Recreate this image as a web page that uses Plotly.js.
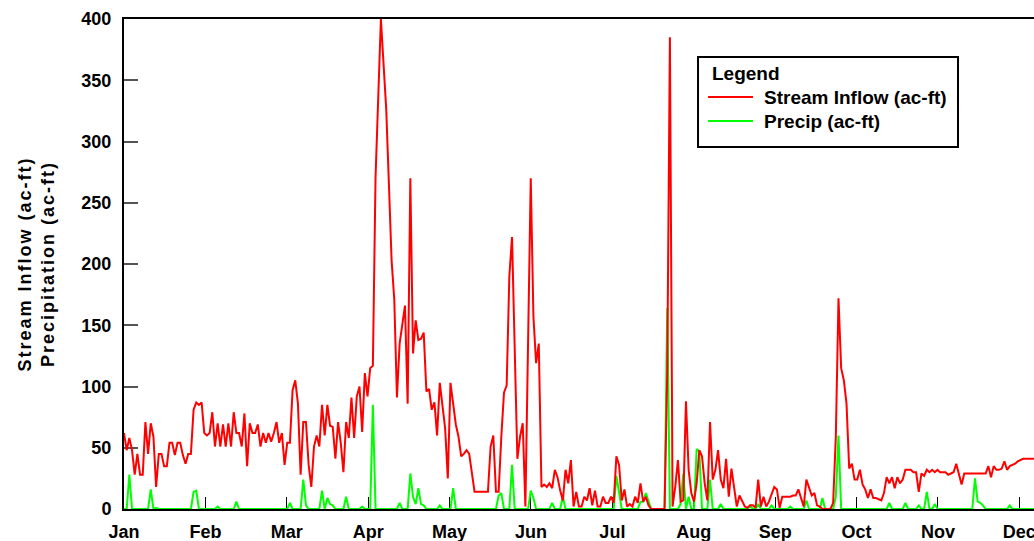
<!DOCTYPE html>
<html>
<head>
<meta charset="utf-8">
<script src="https://cdn.plot.ly/plotly-3.0.1.min.js"></script>
<style>
  html, body { margin: 0; padding: 0; background: #fff; }
  #chart { width: 1034px; height: 541px; }
</style>
</head>
<body>
<div id="chart"></div>
<script>
// Daily stream inflow (ac-ft), day 0 = Jan 1
const inflow = [
  62,48,58,48,28,45,28,28,71,45,
  70,59,18,45,45,35,35,54,54,44,
  54,54,44,37,45,45,81,87,85,87,
  62,60,62,79,51,70,51,69,51,70,
  51,79,62,62,51,78,35,70,62,62,
  69,51,62,54,62,55,62,71,54,62,
  36,54,54,97,105,86,28,71,71,36,
  18,51,60,51,85,60,85,68,67,41,
  71,54,30,71,58,91,58,92,100,63,
  111,92,115,117,271,335,400,363,326,265,
  203,171,91,135,150,166,86,270,127,154,
  138,139,144,96,98,81,87,60,103,84,
  66,25,103,86,69,59,43,45,48,45,
  29,14,14,14,14,14,14,51,60,14,
  14,59,95,101,190,222,120,41,59,70,
  2,150,270,157,119,135,18,20,18,21,
  17,32,26,15,7,32,21,40,2,14,
  2,2,10,7,17,3,15,2,2,10,
  5,5,10,5,43,36,7,16,2,4,
  2,10,5,21,6,10,3,0,0,0,
  0,0,0,110,385,2,18,40,6,7,
  88,32,13,6,21,48,43,21,7,71,
  24,32,48,24,17,41,10,33,17,2,
  11,6,2,1,3,3,1,24,2,10,
  2,6,13,18,16,1,10,10,10,10,
  11,11,16,9,2,24,18,11,13,3,
  2,0,0,0,0,5,59,172,115,105,
  86,33,37,24,24,32,20,16,9,16,
  9,9,8,7,13,26,21,26,17,26,
  21,24,32,32,32,30,30,14,29,27,
  32,30,32,30,32,30,30,30,28,29,
  30,37,29,20,29,29,29,29,29,29,
  29,29,29,35,26,35,32,32,33,39,
  32,35,36,37,39,40,41,41,41,41,
  41,41
];

// Daily precipitation (ac-ft)
const precip = [
  0,0,28,0,0,0,0,0,0,0,
  16,0,1,0,0,0,0,0,0,0,
  0,0,0,0,0,0,14,15,0,0,
  0,0,0,0,0,2,0,0,0,0,
  0,0,6,0,0,0,0,0,0,0,
  0,0,0,0,0,0,0,0,0,0,
  0,0,5,0,0,0,0,24,3,0,
  0,0,0,0,15,0,9,4,3,0,
  0,0,0,10,0,0,0,0,0,2,
  0,0,0,85,0,0,0,0,0,0,
  0,0,0,5,0,0,0,29,10,4,
  17,4,3,0,0,0,0,0,3,0,
  0,0,0,17,0,0,0,0,0,0,
  0,0,0,0,0,0,0,0,0,0,
  11,13,0,0,0,36,0,0,0,0,
  0,0,15,9,0,0,0,0,0,0,
  5,0,0,0,10,0,0,0,0,0,
  0,0,0,0,0,0,0,0,0,0,
  0,0,0,0,27,13,0,0,0,0,
  0,0,0,6,6,13,7,0,0,0,
  0,0,0,164,0,0,0,0,4,29,
  0,10,0,0,49,47,0,0,0,24,
  0,0,0,4,0,0,0,0,0,0,
  0,0,0,0,3,0,0,4,0,0,
  0,0,3,0,0,0,0,0,0,2,
  0,0,0,0,0,7,0,0,0,0,
  0,9,0,0,0,0,10,60,0,0,
  0,0,0,0,0,0,0,0,0,0,
  0,0,0,0,0,0,5,0,0,0,
  0,0,5,0,0,0,0,3,0,0,
  14,0,0,4,0,0,0,0,0,0,
  0,0,0,0,0,0,0,0,25,6,
  5,3,0,0,0,0,0,0,0,0,
  0,3,0,0,0,0,0,0,0,0,
  0,0
];

const monthLabels = ['Jan','Feb','Mar','Apr','May','Jun','Jul','Aug','Sep','Oct','Nov','Dec'];
const monthStarts = monthLabels.map((m, i) => i * 365 / 12);
const yTicks = [0, 50, 100, 150, 200, 250, 300, 350, 400];
const days = inflow.map((_, i) => i);

const series = [
  { name: 'Stream Inflow (ac-ft)', color: '#ff0000', values: inflow },
  { name: 'Precip (ac-ft)', color: '#00ff00', values: precip }
];

const FAMILY = 'Liberation Sans, Arial, sans-serif';
const tickFont = { family: FAMILY, size: 18, color: '#000', weight: 700 };
const legendFont = { family: FAMILY, size: 19, color: '#000', weight: 700 };
const titleFont = { family: FAMILY, size: 18, color: '#000', weight: 700 };

// precipitation underneath, inflow drawn on top
const traces = series.slice().reverse().map(s => ({
  x: days, y: s.values, type: 'scatter', mode: 'lines',
  name: s.name, line: { color: s.color, width: 2 }
}));

// legend box in paper coordinates
const box = { x0: 0.6308, x1: 0.9165, y0: 0.7388, y1: 0.9224 };
const entryRows = [0.8408, 0.7918];
const sampleX = [0.6418, 0.6912];
const labelX = 0.7011;

const shapes = [
  { type: 'rect', xref: 'paper', yref: 'paper', x0: box.x0, x1: box.x1, y0: box.y0, y1: box.y1,
    line: { color: '#000', width: 2 }, fillcolor: '#fff', layer: 'above' }
].concat(series.map((s, i) => ({
  type: 'line', xref: 'paper', yref: 'paper',
  x0: sampleX[0], x1: sampleX[1], y0: entryRows[i], y1: entryRows[i],
  line: { color: s.color, width: 2 }, layer: 'above'
})));

const annotations = [
  { xref: 'paper', yref: 'paper', x: 0.6440, y: 0.8878, xanchor: 'left', yanchor: 'middle',
    text: 'Legend', showarrow: false, font: legendFont }
].concat(series.map((s, i) => ({
  xref: 'paper', yref: 'paper', x: labelX, y: entryRows[i] - 0.002, xanchor: 'left', yanchor: 'middle',
  text: s.name, showarrow: false, font: legendFont
})));

const layout = {
  width: 1034, height: 541,
  margin: { l: 124, r: 0, t: 19, b: 32 },
  paper_bgcolor: '#fff', plot_bgcolor: '#fff',
  showlegend: false,
  font: tickFont,
  xaxis: {
    range: [0, 340.06],
    tickvals: monthStarts, ticktext: monthLabels,
    ticks: 'inside', ticklen: 12, tickwidth: 1, tickcolor: '#000',
    showline: true, linecolor: '#000', linewidth: 2, mirror: true,
    showgrid: false, zeroline: false,
    tickfont: tickFont, ticklabelstandoff: 5,
    ticklabeloverflow: 'allow',
    layer: 'below traces'
  },
  yaxis: {
    range: [0, 400],
    tickvals: yTicks,
    ticks: 'inside', ticklen: 14, tickwidth: 2, tickcolor: '#555',
    showline: true, linecolor: '#000', linewidth: 2,
    showgrid: false, zeroline: false,
    tickfont: tickFont, ticklabelstandoff: 7,
    title: { text: 'Stream Inflow (ac-ft)<br>Precipitation (ac-ft)', font: titleFont, standoff: 22 },
    layer: 'below traces'
  },
  shapes: shapes,
  annotations: annotations
};

Plotly.newPlot('chart', traces, layout, { staticPlot: true, displayModeBar: false }).then(gd => {
  // the axis title is set a little wider than the tick text
  gd.querySelectorAll('.ytitle').forEach(t => { t.style.letterSpacing = '2px'; });
});
</script>
</body>
</html>
